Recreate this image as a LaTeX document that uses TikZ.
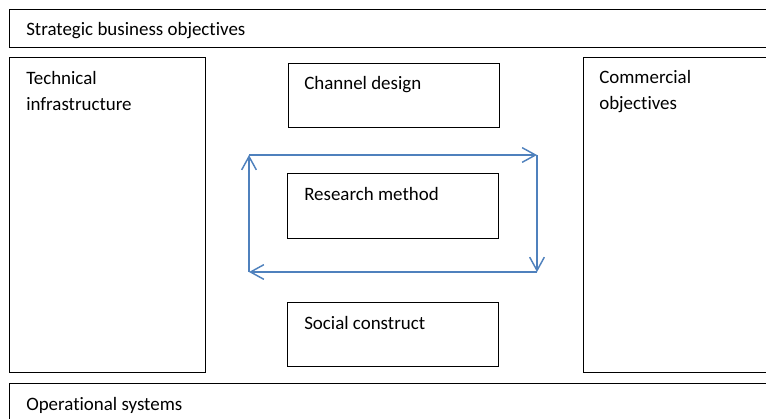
\documentclass[tikz,border=0pt]{standalone}
\usepackage{fontspec}
\setmainfont{Carlito}[Ligatures={NoCommon}]
\usetikzlibrary{arrows.meta}
\definecolor{loopblue}{RGB}{79,129,189}
\tikzset{
  box/.style={draw, line width=1pt, rectangle, anchor=north west, inner sep=0pt},
  txt/.style={anchor=base west, inner sep=0pt, align=left, font=\fontsize{14.2}{19.5}\selectfont},
  loop/.style={draw=loopblue, line width=1.1pt, -{Straight Barb[length=10pt,width=11pt]}}
}
\begin{document}
\begin{tikzpicture}[x=0.75pt,y=-0.75pt]
\useasboundingbox (0,0) rectangle (766,418);
% outer bands
\node[box, minimum width=0.75*770, minimum height=0.75*38] (strat) at (9,9){};
\node[txt] (strattxt) at (26,35){Strategic business objectives};
\node[box, minimum width=0.75*770, minimum height=0.75*40] (oper) at (9,383){};
\node[txt] (opertxt) at (26,410){Operational systems};
% side columns
\node[box, minimum width=0.75*196, minimum height=0.75*315] (tech) at (9,57){};
\node[txt] (techtxt) at (26,110){Technical\\infrastructure};
\node[box, minimum width=0.75*190, minimum height=0.75*315] (comm) at (583,57){};
\node[txt] (commtxt) at (599,109){Commercial\\objectives};
% middle boxes
\node[box, minimum width=0.75*211, minimum height=0.75*64] (chan) at (288,63){};
\node[txt] (chantxt) at (304,89){Channel design};
\node[box, minimum width=0.75*211, minimum height=0.75*65] (res) at (287,173){};
\node[txt] (restxt) at (304,200){Research method};
\node[box, minimum width=0.75*211, minimum height=0.75*64] (soc) at (287,302){};
\node[txt] (soctxt) at (304,329){Social construct};
% loop corners
\coordinate (c1) at (249,155);
\coordinate (c2) at (537,155);
\coordinate (c3) at (537,272);
\coordinate (c4) at (249,272);
\draw[loop] (c1) -- (c2);
\draw[loop] (c2) -- (c3);
\draw[loop] (c3) -- (c4);
\draw[loop] (c4) -- (c1);
\end{tikzpicture}
\end{document}
